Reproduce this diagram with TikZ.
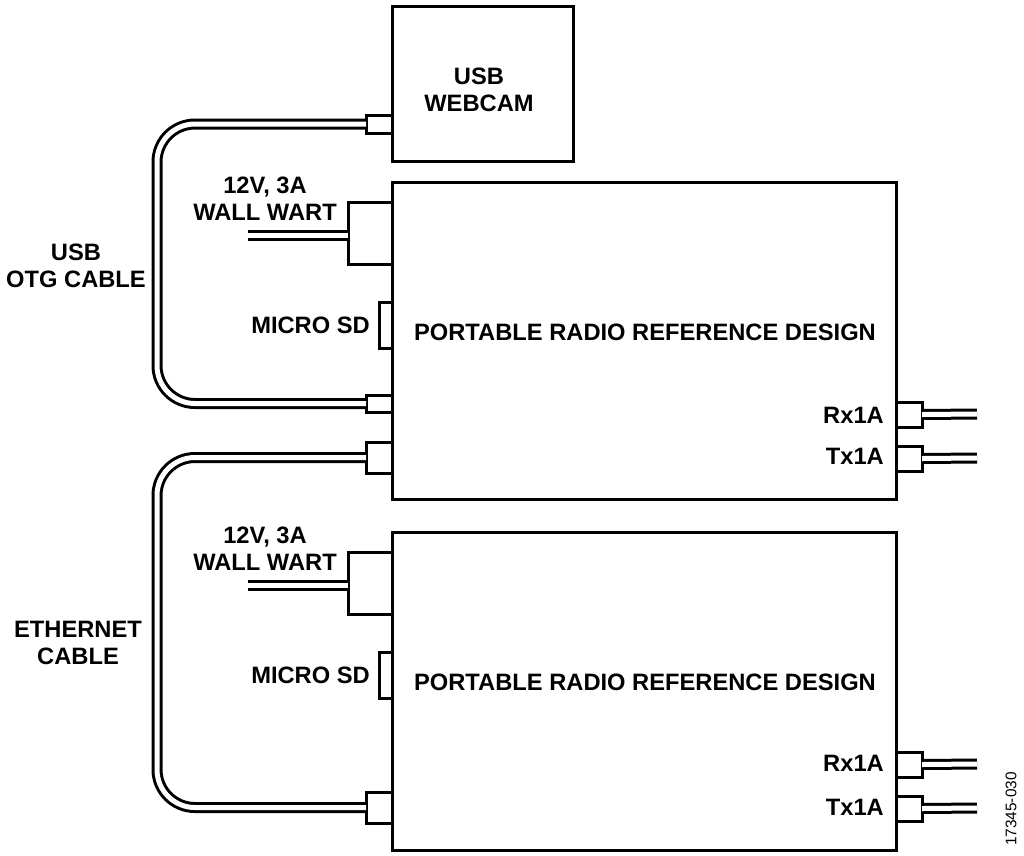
\documentclass[tikz,border=0pt]{standalone}
\usepackage{fontspec}
\setmainfont{Liberation Sans}
\tikzset{
  box/.style={draw=black,line width=3pt,fill=white,inner sep=0pt,outer sep=0pt,anchor=north west},
  wire/.style={draw=black,line width=3pt,double=white,double distance=5pt,line cap=butt},
  cable/.style={wire,rounded corners=38pt},
  lab/.style={font=\fontsize{23.7}{27}\selectfont\bfseries,align=center,inner sep=0pt},
  note/.style={font=\fontsize{15.4}{18}\selectfont,inner sep=0pt,rotate=90},
}
\newcommand{\bx}[6]{\node[box,minimum width=#4pt,minimum height=#5pt] (#1) at (#2,#3) {#6};}
\begin{document}
\begin{tikzpicture}[x=1pt,y=-1pt]
\useasboundingbox (0,0) rectangle (1024,855);
% connectors and boards
\bx{webcam}{392}{6}{181}{155}{}
\bx{boardA}{392}{182}{504}{317}{}
\bx{boardB}{392}{532}{504}{318}{}
\bx{usbTop}{366}{115}{26}{18}{}
\bx{usbLow}{366}{395}{26}{17}{}
\bx{ethTop}{366}{442}{26}{31}{}
\bx{ethLow}{366}{792}{26}{31}{}
\bx{wartA}{348}{202}{44}{62}{}
\bx{wartB}{348}{552}{44}{62}{}
\bx{sdA}{379}{302}{13}{46}{}
\bx{sdB}{379}{652}{13}{46}{}
\bx{rxA}{896}{402}{26}{25}{}
\bx{txA}{896}{446}{26}{25}{}
\bx{rxB}{896}{752}{26}{25}{}
\bx{txB}{896}{796}{26}{25}{}
% free ends
\coordinate (wartAend) at (248,235);
\coordinate (wartBend) at (248,585);
\coordinate (rxAend) at (977,414);
\coordinate (txAend) at (977,458);
\coordinate (rxBend) at (977,764);
\coordinate (txBend) at (977,808);
% cables
\draw[cable] (usbTop.west) -- (157,0 |- usbTop.west) -- (157,0 |- usbLow.west) -- (usbLow.west);
\draw[cable] (ethTop.west) -- (157,0 |- ethTop.west) -- (157,0 |- ethLow.west) -- (ethLow.west);
\draw[wire] (wartA.west |- wartAend) -- (wartAend);
\draw[wire] (wartB.west |- wartBend) -- (wartBend);
\draw[wire] (rxA.east) -- (rxAend);
\draw[wire] (txA.east) -- (txAend);
\draw[wire] (rxB.east) -- (rxBend);
\draw[wire] (txB.east) -- (txBend);
% labels
\node[lab] (tWeb) at (479,90) {USB\\WEBCAM};
\node[lab] (tWartA) at (265,199) {12V, 3A\\WALL WART};
\node[lab] (tWartB) at (265,549) {12V, 3A\\WALL WART};
\node[lab] (tUsb) at (76,266) {USB\\OTG CABLE};
\node[lab] (tEth) at (78,643) {ETHERNET\\CABLE};
\node[lab,anchor=east] (tSdA) at (370,325) {MICRO SD};
\node[lab,anchor=east] (tSdB) at (370,675) {MICRO SD};
\node[lab] (tPrA) at (645,332) {PORTABLE RADIO REFERENCE DESIGN};
\node[lab] (tPrB) at (645,682) {PORTABLE RADIO REFERENCE DESIGN};
\node[lab,anchor=east] (tRxA) at (884,415) {Rx1A};
\node[lab,anchor=east] (tTxA) at (884,456) {Tx1A};
\node[lab,anchor=east] (tRxB) at (884,763) {Rx1A};
\node[lab,anchor=east] (tTxB) at (884,807) {Tx1A};
\node[note] (tId) at (1011,809) {17345-030};
\end{tikzpicture}
\end{document}
